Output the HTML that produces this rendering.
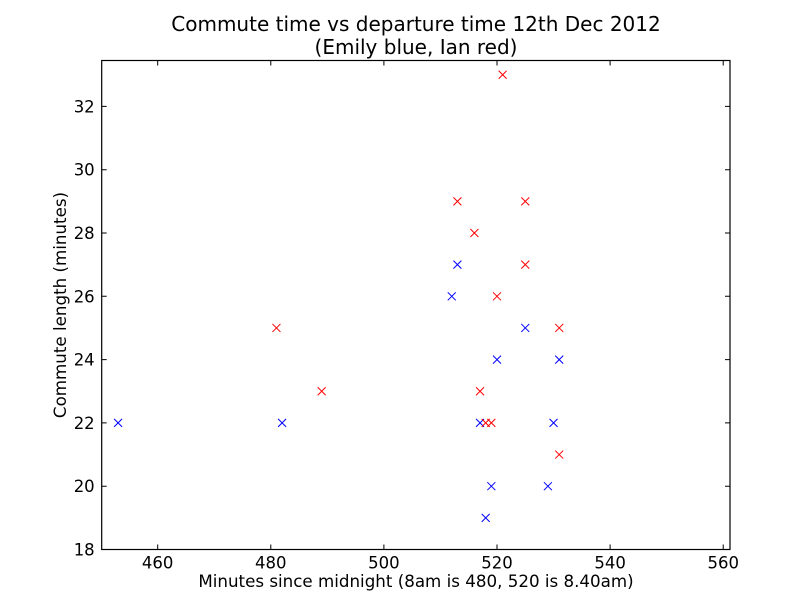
<!DOCTYPE html>
<html><head><meta charset="utf-8"><style>body{margin:0;background:#fff}svg{display:block;font-family:"DejaVu Sans","Liberation Sans",sans-serif}</style></head>
<body>
<svg id="chart" width="812" height="612"></svg>
<script>
const blueX=[453,482,512,513,517,518,519,520,525,529,530,531];
const blueY=[22,22,26,27,22,19,20,24,25,20,22,24];
const redX=[481,489,513,516,517,518,519,520,521,525,525,531,531];
const redY=[25,23,29,28,23,22,22,26,33,29,27,25,21];
const xTicks=[460,480,500,520,540,560];
const yTicks=[18,20,22,24,26,28,30,32];
const L=101.7,R=730,T=60.5,B=549.5,x0=450.1,x1=561.2,y0=18,y1=33.45;
const sx=v=>L+(v-x0)/(x1-x0)*(R-L), sy=v=>B-(v-y0)/(y1-y0)*(B-T);
const svg=document.getElementById('chart'),NS='http://www.w3.org/2000/svg';
function mk(t,a,txt){const e=document.createElementNS(NS,t);for(const k in a)e.setAttribute(k,a[k]);if(txt!==undefined)e.textContent=txt;svg.appendChild(e);return e;}
let e=mk('rect',{x:L,y:T,width:R-L,height:B-T,fill:'none',stroke:'#000','stroke-width':1.2});


xTicks.forEach(v=>{const x=sx(v);
 let t=mk('path',{d:`M${x},${B}v-5M${x},${T}v5`,stroke:'#000'});
 
 
 let l=mk('text',{x:x,y:B+19,'text-anchor':'middle','font-size':16.5},v);
 
 });
yTicks.forEach(v=>{const y=sy(v);
 let t=mk('path',{d:`M${L},${y}h5M${R},${y}h-5`,stroke:'#000'});
 
 
 let l=mk('text',{x:L-7,y:y+6,'text-anchor':'end','font-size':16.5},v);
 
 });
function pts(xs,ys,c,n){xs.forEach((v,i)=>{const x=sx(v),y=sy(ys[i]);
 let p=mk('path',{d:`M${x-4},${y-4}L${x+4},${y+4}M${x-4},${y+4}L${x+4},${y-4}`,stroke:c,'stroke-width':1});
 
 });}
pts(blueX,blueY,'#0000ff','emily-point');
pts(redX,redY,'#ff0000','ian-point');
let a=mk('text',{x:416,y:31,'text-anchor':'middle','font-size':20},'Commute time vs departure time 12th Dec 2012');


a=mk('text',{x:416,y:54,'text-anchor':'middle','font-size':20},'(Emily blue, Ian red)');


a=mk('text',{x:416,y:587,'text-anchor':'middle','font-size':16.7},'Minutes since midnight (8am is 480, 520 is 8.40am)');


a=mk('text',{x:66,y:305,'text-anchor':'middle','font-size':16.7,transform:'rotate(-90 66 305)'},'Commute length (minutes)');


</script>
</body></html>
